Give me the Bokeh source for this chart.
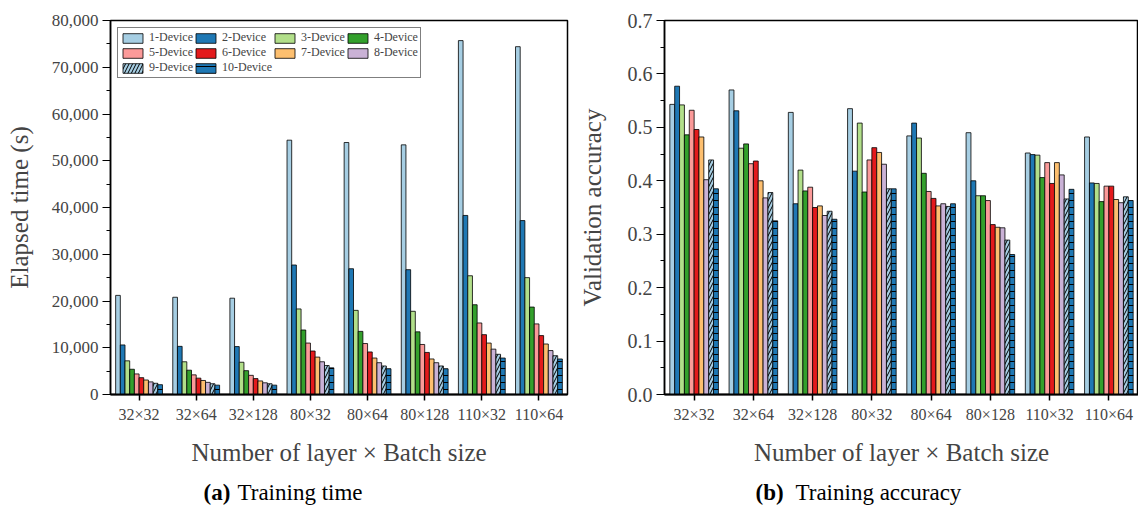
from bokeh.plotting import figure
from bokeh.models import (ColumnDataSource, FactorRange, Range1d, FixedTicker, NumeralTickFormatter)
from bokeh.core.properties import value
from bokeh.transform import dodge
from bokeh.layouts import row, column
from bokeh.embed import file_html
from bokeh.resources import INLINE

# ---------------- data ----------------
categories = ["32×32", "32×64", "32×128", "80×32", "80×64", "80×128", "110×32", "110×64"]
devices = ["1-Device", "2-Device", "3-Device", "4-Device", "5-Device",
           "6-Device", "7-Device", "8-Device", "9-Device", "10-Device"]

time_1 = [21200, 20800, 20600, 54400, 53900, 53400, 75700, 74400]
time_2 = [10600, 10300, 10250, 27700, 26900, 26700, 38300, 37200]
time_3 = [7200, 7000, 6900, 18300, 18000, 17800, 25400, 25000]
time_4 = [5400, 5200, 5100, 13800, 13500, 13400, 19200, 18700]
time_5 = [4400, 4200, 4100, 11000, 10900, 10700, 15300, 15100]
time_6 = [3600, 3500, 3400, 9300, 9100, 9000, 12800, 12600]
time_7 = [3100, 3000, 2900, 8000, 7800, 7600, 11000, 10800]
time_8 = [2700, 2600, 2500, 7000, 6800, 6800, 9700, 9400]
time_9 = [2400, 2300, 2300, 6200, 6100, 6100, 8600, 8300]
time_10 = [2100, 2000, 2000, 5700, 5500, 5500, 7800, 7600]

acc_1 = [0.543, 0.570, 0.528, 0.535, 0.484, 0.490, 0.452, 0.482]
acc_2 = [0.577, 0.531, 0.357, 0.418, 0.508, 0.400, 0.449, 0.396]
acc_3 = [0.542, 0.461, 0.420, 0.508, 0.480, 0.372, 0.448, 0.395]
acc_4 = [0.486, 0.469, 0.381, 0.379, 0.414, 0.372, 0.406, 0.361]
acc_5 = [0.532, 0.432, 0.388, 0.439, 0.380, 0.363, 0.434, 0.390]
acc_6 = [0.496, 0.437, 0.350, 0.462, 0.367, 0.318, 0.395, 0.390]
acc_7 = [0.482, 0.400, 0.353, 0.453, 0.353, 0.313, 0.434, 0.365]
acc_8 = [0.402, 0.368, 0.335, 0.431, 0.357, 0.312, 0.411, 0.359]
acc_9 = [0.439, 0.378, 0.343, 0.385, 0.352, 0.289, 0.366, 0.370]
acc_10 = [0.385, 0.325, 0.328, 0.385, 0.357, 0.262, 0.384, 0.363]

time_values = [time_1, time_2, time_3, time_4, time_5, time_6, time_7, time_8, time_9, time_10]
acc_values = [acc_1, acc_2, acc_3, acc_4, acc_5, acc_6, acc_7, acc_8, acc_9, acc_10]

time_ticks = [0, 10000, 20000, 30000, 40000, 50000, 60000, 70000, 80000]
acc_ticks = [0.0, 0.1, 0.2, 0.3, 0.4, 0.5, 0.6, 0.7]

caption_bold = ["(a)", "(b)"]
caption_text = ["Training time", "Training accuracy"]

# ---------------- styles ----------------
colors = ["#a6cee3", "#1f78b4", "#b2df8a", "#33a02c", "#fb9a99",
          "#e31a1c", "#fdbf6f", "#cab2d6", "#a6cee3", "#1f78b4"]
hatches = [None] * 8 + ["/", "-"]
FONT = "Liberation Serif"
BAR_W = 0.082


def style_axes(p, ytick_size, ylabel_standoff):
    p.xgrid.visible = False
    p.ygrid.visible = False
    p.outline_line_color = "black"
    p.outline_line_width = 1.5
    p.background_fill_color = "white"
    p.border_fill_color = "white"
    xa = p.xaxis[0]
    xa.axis_label = "Number of layer × Batch size"
    xa.axis_label_text_font = FONT
    xa.axis_label_text_font_size = "25px"
    xa.axis_label_text_font_style = "normal"
    xa.axis_label_standoff = 13
    xa.major_label_text_font = FONT
    xa.major_label_text_font_size = "16px"
    xa.major_label_standoff = 5
    xa.major_tick_out = 6
    xa.major_tick_in = 0
    xa.axis_line_width = 2
    xa.major_tick_line_width = 1.5
    ya = p.yaxis[0]
    ya.axis_label_text_font = FONT
    ya.axis_label_text_font_size = "25px"
    ya.axis_label_text_font_style = "normal"
    ya.axis_label_standoff = ylabel_standoff
    ya.major_label_text_font = FONT
    ya.major_label_text_font_size = ytick_size
    ya.major_label_standoff = 4
    ya.major_tick_out = 8
    ya.major_tick_in = 0
    ya.minor_tick_out = 4
    ya.minor_tick_in = 0
    ya.axis_line_width = 1.5
    ya.major_tick_line_width = 1.2
    ya.minor_tick_line_width = 1


def draw_bars(p, values, with_legend):
    n = len(values)
    for i, vals in enumerate(values):
        src = ColumnDataSource(dict(cat=categories, top=vals))
        off = (i - (n - 1) / 2) * BAR_W
        kw = dict(x=dodge("cat", off, range=p.x_range), top="top", width=BAR_W, bottom=0,
                  source=src, fill_color=colors[i], line_color="black", line_alpha=0.8,
                  line_width=1)
        if hatches[i]:
            kw.update(hatch_pattern=hatches[i], hatch_color="black", hatch_scale=7,
                      hatch_weight=1)
        if with_legend:
            kw["legend_label"] = devices[i]
        p.vbar(**kw)


# ---------------- left: training time ----------------
p1 = figure(width=575, height=470, x_range=FactorRange(factors=categories, range_padding=0),
            y_range=Range1d(0, 80000), output_backend="svg", toolbar_location=None,
            min_border_left=110, min_border_right=8, min_border_top=17, min_border_bottom=76)
draw_bars(p1, time_values, True)
style_axes(p1, "17px", 16)
p1.yaxis[0].axis_label = "Elapsed time (s)"
p1.yaxis[0].ticker = FixedTicker(ticks=time_ticks,
                                 minor_ticks=[t + 5000 for t in time_ticks[:-1]])
p1.yaxis[0].formatter = NumeralTickFormatter(format="0,0")

leg = p1.legend[0]
leg.location = "top_left"
leg.margin = 7
leg.orientation = "horizontal"
leg.ncols = 4
leg.padding = 2
leg.spacing = 0
leg.glyph_width = 25
leg.glyph_height = 12
leg.label_height = 12
leg.label_width = 40
leg.label_standoff = 4
leg.label_text_font = FONT
leg.label_text_font_size = "12px"
leg.label_text_line_height = 1.0
leg.border_line_color = "black"
leg.border_line_width = 1
leg.background_fill_alpha = 1

# ---------------- right: training accuracy ----------------
p2 = figure(width=563, height=470, x_range=FactorRange(factors=categories, range_padding=0),
            y_range=Range1d(0, 0.7), output_backend="svg", toolbar_location=None,
            min_border_left=89, min_border_right=0, min_border_top=20, min_border_bottom=76)
draw_bars(p2, acc_values, False)
style_axes(p2, "20px", 19)
p2.yaxis[0].axis_label = "Validation accuracy"
p2.yaxis[0].ticker = FixedTicker(ticks=acc_ticks,
                                 minor_ticks=[round(t + 0.05, 2) for t in acc_ticks[:-1]])
p2.yaxis[0].formatter = NumeralTickFormatter(format="0.0")

# ---------------- captions row ----------------
pc = figure(width=1138, height=38, x_range=Range1d(0, 1138), y_range=Range1d(0, 38),
            output_backend="svg", toolbar_location=None, min_border=0,
            x_axis_location=None, y_axis_location=None)
pc.grid.visible = False
pc.outline_line_color = None
pc.text(x=[203, 755], y=[16, 16], text=caption_bold, text_font=value(FONT),
        text_font_size="23px", text_font_style="bold", text_baseline="middle",
        text_color="black")
pc.text(x=[237, 795], y=[16, 16], text=caption_text, text_font=value(FONT),
        text_font_size="23px", text_baseline="middle", text_color="black")

layout = column(row(p1, p2), pc)
open("out.html", "w").write(file_html(layout, INLINE))
